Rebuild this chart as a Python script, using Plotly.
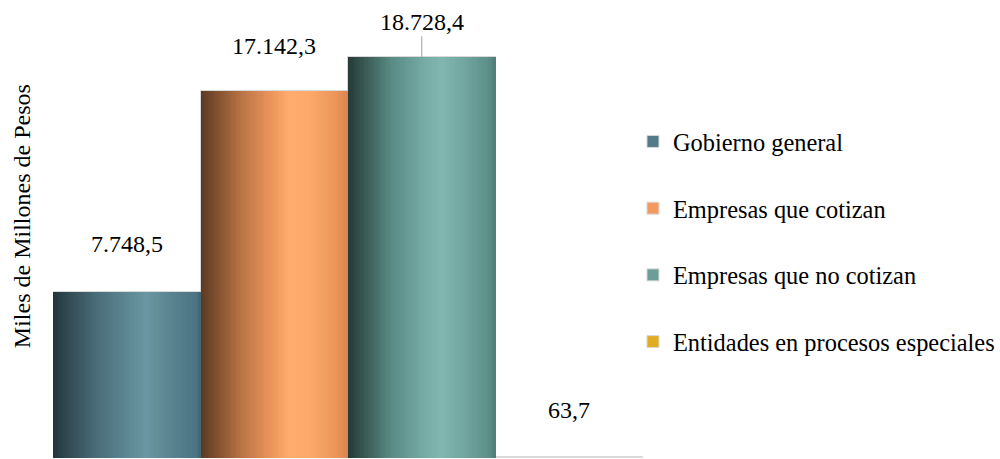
import plotly.graph_objects as go

categories = ["Gobierno general", "Empresas que cotizan", "Empresas que no cotizan",
              "Entidades en procesos especiales"]
values = [7748.5, 17142.3, 18728.4, 63.7]
value_labels = ["7.748,5", "17.142,3", "18.728,4", "63,7"]
legend_colors = ["#527a88", "#f29a62", "#6b9e96", "#e2ac20"]

# cylindrical shading stops (position across bar, colour); None = flat fill
gradient_stops = [
    [(0, "#22333a"), (0.08, "#2f464e"), (0.3, "#4a6d79"), (0.55, "#618d99"),
     (0.63, "#6a97a3"), (0.8, "#5a8390"), (0.97, "#4b7482"), (1, "#3f6470")],
    [(0, "#5a3820"), (0.1, "#7d4e2e"), (0.3, "#c07848"), (0.5, "#f0985e"),
     (0.6, "#ffac6e"), (0.75, "#fca869"), (0.92, "#eb955a"), (1, "#d88450")],
    [(0, "#263935"), (0.08, "#34504b"), (0.3, "#5a8c86"), (0.55, "#7aafa9"),
     (0.63, "#82b7b1"), (0.8, "#70a49e"), (0.95, "#5e8f89"), (1, "#4f7c77")],
    None,
]
# label offsets above bar top (px) and whether a leader line is drawn
label_shift = [48, 45, 35, 47]
label_leader = [False, False, True, False]

FONT = "Liberation Serif"
FS = 24
N = 60


def hex2rgb(h):
    h = h.lstrip("#")
    return tuple(int(h[i:i + 2], 16) for i in (0, 2, 4))


def interp(stops, t):
    for (p0, c0), (p1, c1) in zip(stops[:-1], stops[1:]):
        if p0 <= t <= p1:
            f = 0 if p1 == p0 else (t - p0) / (p1 - p0)
            a, b = hex2rgb(c0), hex2rgb(c1)
            r = [round(a[i] + (b[i] - a[i]) * f) for i in range(3)]
            return "rgb(%d,%d,%d)" % tuple(r)
    return stops[-1][1]


fig = go.Figure()

# base bars (carry the legend)
for i, cat in enumerate(categories):
    fig.add_trace(go.Bar(
        x=[cat], y=[values[i]], name=cat, width=1,
        marker=dict(color=legend_colors[i], line=dict(color="#d9d9d9", width=1)),
        legendgroup=cat, showlegend=True, hoverinfo="skip",
    ))

# gradient slices on top
for i, cat in enumerate(categories):
    if gradient_stops[i] is None:
        continue
    offsets = [-0.5 + k / N for k in range(N)]
    widths = [1 / N * (1.15 if k < N - 1 else 1.0) for k in range(N)]
    cols = [interp(gradient_stops[i], (k + 0.5) / N) for k in range(N)]
    fig.add_trace(go.Bar(
        x=[cat] * N, y=[values[i]] * N, offset=offsets, width=widths,
        marker=dict(color=cols, line=dict(width=0)),
        showlegend=False, hoverinfo="skip", legendgroup=cat,
    ))

# value labels
for i, cat in enumerate(categories):
    if label_leader[i]:
        fig.add_annotation(x=cat, y=values[i], text=value_labels[i], showarrow=True,
                           arrowhead=0, arrowwidth=1, arrowcolor="#a0a0a0",
                           ax=0, ay=-label_shift[i],
                           font=dict(family=FONT, size=FS, color="#000000"))
    else:
        fig.add_annotation(x=cat, y=values[i], text=value_labels[i], showarrow=False,
                           yshift=label_shift[i], yanchor="middle",
                           font=dict(family=FONT, size=FS, color="#000000"))

# y axis title
fig.add_annotation(xref="paper", yref="paper", x=0, y=0.528, xshift=-31,
                   text="Miles de Millones de Pesos", textangle=-90, showarrow=False,
                   xanchor="center", yanchor="middle",
                   font=dict(family=FONT, size=FS, color="#000000"))

fig.update_layout(
    width=1000, height=459,
    margin=dict(l=53, r=357, t=0, b=1),
    barmode="overlay", bargap=0,
    paper_bgcolor="white", plot_bgcolor="white",
    font=dict(family=FONT, size=FS, color="#000000"),
    showlegend=True,
    legend=dict(x=0.983, xanchor="left", y=0.74, yanchor="top",
                traceorder="grouped", tracegroupgap=32,
                font=dict(family=FONT, size=24.4, color="#000000"),
                bgcolor="rgba(0,0,0,0)"),
    xaxis=dict(visible=False, range=[-0.5, 3.5], type="category",
               categoryorder="array", categoryarray=categories),
    yaxis=dict(visible=False, range=[0, 21375]),
)

fig.write_html("out.html", config={"displayModeBar": False},
               post_script="document.body.style.margin='0px';")
